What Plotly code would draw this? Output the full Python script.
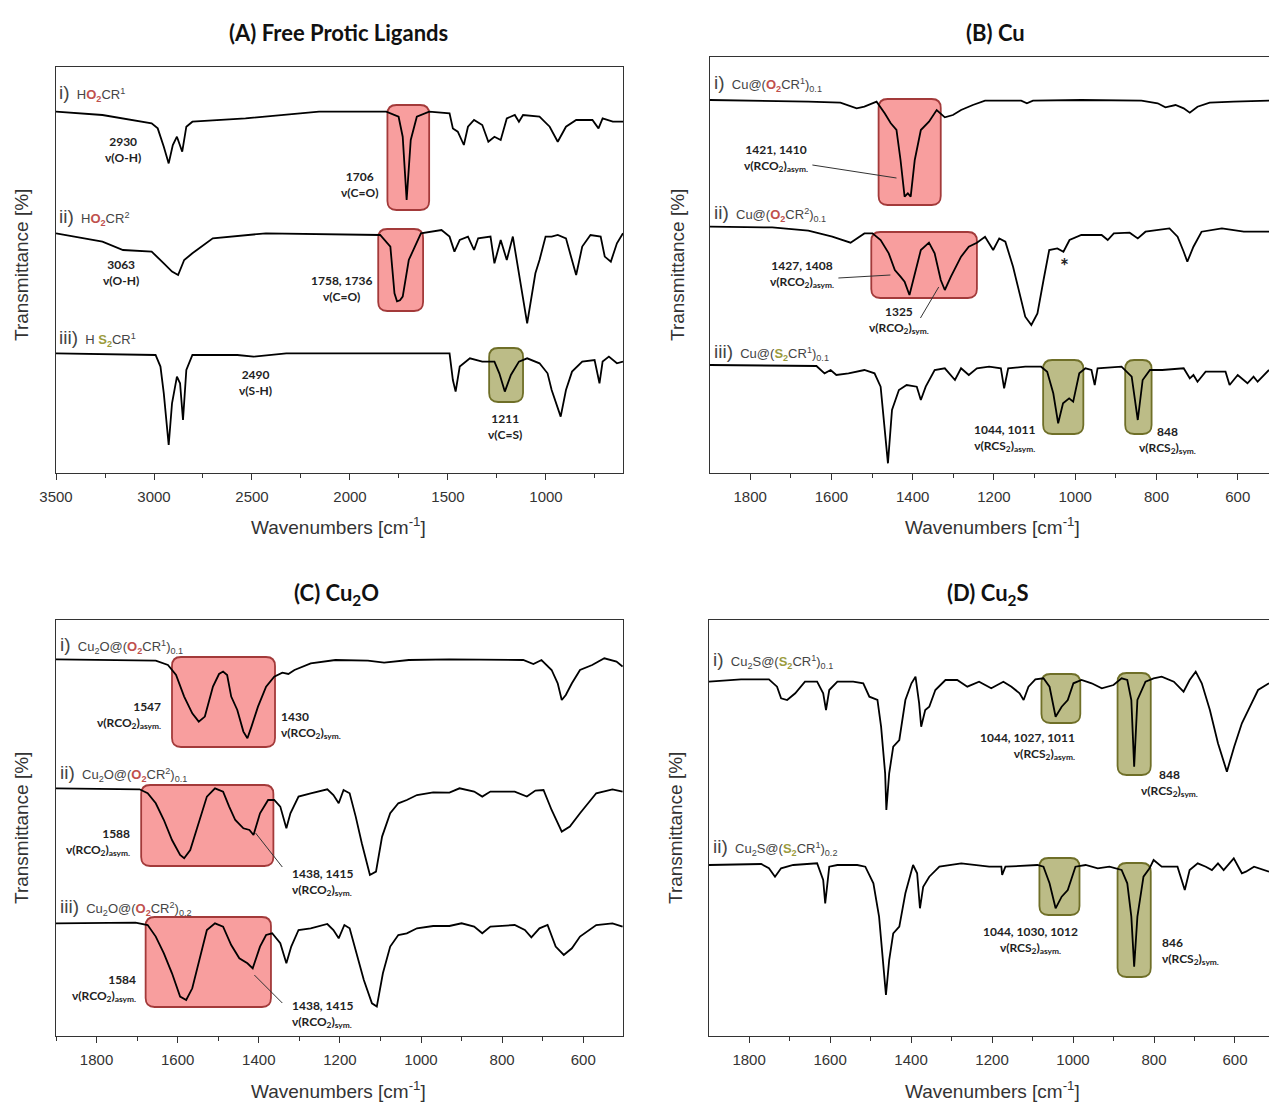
import plotly.graph_objects as go

W, H = 1269, 1103

# ---------------- DATA (wavenumber cm-1, relative transmittance, baseline ~100) ----------------
# (A) free protic ligands
A1_wn = [3500, 3263, 3012, 2981, 2950, 2925, 2904, 2883, 2856, 2835, 2804, 2533, 2158, 1815, 1752, 1731, 1711, 1690, 1659, 1596,
         1492, 1475, 1450, 1419, 1398, 1367, 1325, 1294, 1263, 1231, 1200, 1159, 1138, 1117, 1033, 981, 940, 898, 846, 763, 732, 711, 659, 607]
A1_T = [100, 96.7, 88.3, 83.3, 65, 48.3, 66.7, 75, 60, 85, 90, 93.3, 100, 100, 95, 75, 11.7, 71.7, 95, 100,
        98.3, 83.3, 80, 66.7, 85, 91.7, 86.7, 70, 75, 71.7, 93.3, 96.7, 90, 96.7, 95, 85, 70, 85, 91.7, 91.7, 83.3, 93.3, 90, 90]

A2_wn = [3500, 3263, 3158, 3012, 2950, 2908, 2877, 2846, 2804, 2700, 2429, 1846, 1794, 1773, 1760, 1745, 1731, 1700, 1638, 1533,
         1492, 1467, 1440, 1398, 1367, 1346, 1283, 1263, 1231, 1200, 1169, 1138, 1096, 1054, 1033, 1002, 971, 940, 898, 877, 846,
         815, 773, 721, 700, 669, 638, 607]
A2_T = [100, 91.7, 83.3, 81.7, 70, 61.7, 58.3, 73.3, 80, 95, 100, 98.3, 86.7, 40, 32, 33, 36.7, 73.3, 100, 103.3,
        96.7, 81.7, 93.3, 96.7, 83.3, 95, 96.7, 70, 93.3, 73.3, 96.7, 60, 10, 60, 73.3, 96.7, 96.7, 98.3, 95, 80, 58.3,
        86.7, 98.3, 96.7, 76.7, 71.7, 90, 100]

A3_wn = [3500, 2992, 2967, 2950, 2925, 2908, 2883, 2867, 2852, 2835, 2804, 2575, 2492, 2325, 1492, 1475, 1461, 1440, 1388, 1325,
         1263, 1238, 1210, 1179, 1138, 1096, 1033, 992, 971, 925, 898, 867, 815, 752, 727, 711, 679, 638, 607]
A3_T = [100, 98.3, 86.7, 60, 8.3, 50, 76.7, 70, 33.3, 83.3, 98.3, 98.3, 96.7, 100, 100, 73.3, 61.7, 86.7, 95, 91.7,
        91.7, 80, 61.7, 78.3, 91.7, 95, 90, 80, 63.3, 36.7, 63.3, 81.7, 91.7, 93.3, 70, 91.7, 96.7, 90, 91.7]

# (B) Cu
B1_wn = [1899, 1775, 1657, 1578, 1538, 1519, 1489, 1469, 1454, 1440, 1430, 1420, 1412, 1405, 1395, 1380, 1360, 1341, 1321, 1301,
         1281, 1252, 1222, 1133, 1119, 1104, 985, 837, 797, 778, 753, 733, 718, 699, 669, 610, 523]
B1_T = [100, 99.3, 98.3, 97.3, 91.7, 93.3, 98.3, 86.7, 76.7, 70, 40, 3.3, 6.7, 3.3, 40, 70, 78.3, 90, 82.7, 85,
        90, 95, 99.3, 99.3, 96.7, 99.3, 100, 99.3, 96.7, 92.7, 95, 91.7, 87.3, 93.3, 97.3, 98.3, 99.3]

B2_wn = [1899, 1746, 1657, 1598, 1553, 1519, 1499, 1479, 1459, 1444, 1430, 1420, 1408, 1395, 1380, 1360, 1346, 1331, 1321, 1306,
         1281, 1262, 1242, 1222, 1202, 1187, 1172, 1153, 1138, 1123, 1108, 1093, 1078, 1064, 1044, 1029, 1014, 985, 935, 920,
         905, 866, 846, 827, 768, 748, 733, 724, 709, 689, 639, 585, 523]
B2_T = [100, 99.3, 96, 90, 84, 93.3, 93.3, 86.7, 73.3, 56.7, 50, 45, 31.7, 53.3, 76.7, 84, 73.3, 46.7, 36.7, 50,
        70, 80, 84, 90, 76.7, 88.3, 85, 60, 33.3, 10, 1.7, 13.3, 46.7, 76.7, 78.3, 75, 86.7, 91.7, 91.7, 86.7,
        93.3, 94, 88.3, 95, 98.3, 90, 75, 65, 80, 95, 98.3, 95, 95]

B3_wn = [1899, 1637, 1617, 1602, 1588, 1558, 1519, 1494, 1479, 1469, 1461, 1451, 1434, 1415, 1390, 1380, 1368, 1346, 1321, 1296,
         1281, 1262, 1242, 1212, 1183, 1175, 1165, 1123, 1084, 1069, 1054, 1042, 1030, 1015, 1005, 990, 975, 960, 952, 945,
         886, 861, 846, 834, 816, 786, 733, 718, 709, 699, 679, 630, 620, 600, 576, 561, 551, 523]
B3_T = [100, 99, 91.7, 95, 90, 91.7, 95, 91.7, 78.3, 38.3, 1.7, 55, 75, 80, 78.3, 65, 78.3, 95, 96.7, 85,
        96.7, 90, 96.7, 98.3, 96.7, 76.7, 96.7, 98.3, 98.3, 93.3, 71.7, 41.7, 61.7, 66.7, 63.3, 91.7, 96.7, 95, 80, 96.7,
        98.3, 88.3, 45, 85, 95, 95, 96.7, 86.7, 90, 83.3, 93.3, 93.3, 80, 90, 81.7, 88.3, 83.3, 95]

# (C) Cu2O
C1_wn = [1900, 1735, 1654, 1624, 1604, 1584, 1564, 1548, 1533, 1513, 1498, 1488, 1478, 1468, 1453, 1438, 1428, 1418, 1402, 1382,
         1362, 1342, 1327, 1312, 1272, 1211, 1131, 1091, 1030, 930, 799, 748, 723, 703, 678, 663, 653, 643, 628, 608,
         578, 548, 518, 503]
C1_T = [100, 99.3, 98.7, 94.3, 84.3, 62.7, 46, 37.7, 42.7, 72.7, 85.3, 87.7, 84.3, 62.7, 49.3, 27.7, 21, 32.7, 52.7, 72.7,
        82.7, 86.7, 85.3, 89.3, 96, 99.3, 98.7, 96.7, 99.3, 100, 100, 99.3, 95.3, 99.3, 89.3, 76, 59.3, 64.3, 76, 89.3,
        94.3, 101, 97.7, 92.7]

C2_wn = [1900, 1755, 1694, 1674, 1654, 1634, 1614, 1594, 1584, 1569, 1548, 1528, 1508, 1488, 1473, 1458, 1438, 1423, 1413, 1397,
         1377, 1362, 1347, 1332, 1322, 1302, 1272, 1231, 1216, 1203, 1191, 1176, 1161, 1146, 1126, 1111, 1096, 1076, 1056, 1035,
         1010, 970, 930, 905, 869, 849, 829, 769, 739, 718, 698, 678, 653, 633, 608, 568, 528, 503]
C2_T = [100, 99.3, 99, 95, 85, 68.3, 48.3, 33.3, 30, 38.3, 65, 91.7, 100, 96.7, 81.7, 68.3, 60, 58.3, 53.3, 75,
        88.3, 88.3, 81.7, 60, 75, 91.7, 95, 99, 93.3, 85, 98.3, 95, 71.7, 45, 13.3, 16.7, 51.7, 75, 85, 88.3,
        93.3, 96, 95.7, 100, 96.7, 91.7, 96.7, 96.7, 91.7, 97.7, 98.3, 78.3, 56.7, 61.7, 75, 95, 99, 96.7]

C3_wn = [1900, 1704, 1674, 1654, 1634, 1614, 1594, 1579, 1564, 1543, 1528, 1508, 1488, 1468, 1448, 1428, 1415, 1397, 1382, 1367,
         1347, 1332, 1320, 1302, 1272, 1231, 1216, 1203, 1189, 1176, 1161, 1141, 1121, 1109, 1094, 1076, 1056, 1035, 1010, 970,
         930, 900, 869, 849, 829, 769, 744, 728, 708, 688, 668, 648, 628, 608, 568, 528, 503]
C3_T = [100, 100.7, 98.3, 86.7, 70, 50, 26.7, 23.3, 35, 70, 93.3, 100, 96.7, 78.3, 65, 60, 55, 76.7, 88.3, 90,
        80, 60, 76.7, 93.3, 95, 99.3, 93.3, 85, 98.3, 95, 73.3, 43.3, 20, 16.7, 50, 76.7, 88.3, 90, 95, 97.3,
        97.3, 100, 96.7, 90, 96.7, 98.3, 93.3, 86, 95, 98.3, 76.7, 68.3, 75, 86.7, 98.3, 100, 96.7]

# (D) Cu2S
D1_wn = [1899, 1820, 1751, 1731, 1721, 1706, 1686, 1662, 1632, 1617, 1610, 1602, 1582, 1543, 1518, 1503, 1483, 1474, 1464, 1461,
         1454, 1444, 1429, 1414, 1399, 1389, 1380, 1375, 1365, 1355, 1340, 1315, 1286, 1261, 1232, 1202, 1172, 1152, 1132, 1122,
         1110, 1093, 1073, 1058, 1043, 1028, 1013, 999, 979, 954, 929, 900, 880, 866, 856, 849, 841, 821, 801, 781,
         751, 727, 712, 697, 682, 662, 642, 620, 602, 583, 563, 543, 516]
D1_T = [98.3, 100.7, 100.7, 93.3, 81.7, 80, 86.7, 98.3, 98.3, 86.7, 70, 90, 98.3, 98.3, 96.7, 83.3, 80, 53.3, 6.7, -30,
        6.7, 33.3, 40, 80, 96.7, 103.3, 76.7, 53.3, 70, 73.3, 90, 100, 100, 93.3, 98.3, 91.7, 98.3, 93.3, 86.7, 80,
        93.3, 100.7, 101.7, 93.3, 63.3, 73.3, 80, 96.7, 100, 96.7, 91.7, 95, 101.7, 100, 80, 13.3, 80, 98.3, 101.7, 103.3,
        98.3, 88.3, 100, 108.3, 96.7, 70, 36.7, 8.3, 33.3, 56.7, 73.3, 90, 96.7]

D2_wn = [1899, 1770, 1751, 1736, 1721, 1691, 1632, 1617, 1612, 1602, 1582, 1533, 1513, 1493, 1479, 1469, 1462, 1454, 1444, 1429,
         1414, 1395, 1385, 1378, 1370, 1355, 1330, 1276, 1207, 1177, 1175, 1167, 1088, 1073, 1058, 1043, 1028, 1013, 994, 969,
         939, 910, 880, 866, 856, 849, 841, 826, 811, 801, 781, 742, 724, 712, 692, 672, 657, 642, 628, 603,
         583, 573, 553, 516]
D2_T = [100, 101, 96.7, 88.3, 96.7, 100, 101.7, 85, 61.7, 98.3, 100, 100, 98.3, 81.7, 48.3, -1.7, -30, 5, 31.7, 38.3,
        71.7, 100, 91.7, 56.7, 78.3, 88.3, 98.3, 101.7, 98.3, 98.3, 90, 98.3, 100, 98.3, 81.7, 56.7, 68.3, 75, 98.3, 100,
        96.7, 98.3, 95, 81.7, 48.3, -1.7, 48.3, 88.3, 96.7, 105, 98.3, 98.3, 75, 95, 101.7, 98.3, 95, 101.7, 95, 106.7,
        91.7, 93.3, 98.3, 93.3]

A_ticks = [3500, 3000, 2500, 2000, 1500, 1000]
BCD_ticks = [1800, 1600, 1400, 1200, 1000, 800, 600]

# ---------------- LAYOUT HELPERS ----------------
FONT_AX = "Liberation Sans, Arial, sans-serif"
FONT_CAL = "Lato, Carlito, Calibri, sans-serif"
RED = "#c0504d"
OLIVE = "#9b9b3c"

# panel pixel boxes: (left, right, top, bottom), x range
panels = {
    1: dict(box=(56, 623, 67, 473), xr=[3500, 607], minor=250, ymirror=True),
    2: dict(box=(710, 1269, 57, 473), xr=[1899, 523], minor=100, ymirror=False),
    3: dict(box=(56, 623, 620, 1036), xr=[1900, 502], minor=100, ymirror=True),
    4: dict(box=(709, 1269, 620, 1036), xr=[1899, 516], minor=100, ymirror=False),
}

fig = go.Figure()
layout = dict(width=W, height=H, margin=dict(l=0, r=0, t=0, b=0, pad=0, autoexpand=False),
              paper_bgcolor="white", plot_bgcolor="white", showlegend=False)

for k, p in panels.items():
    l, r, t, b = p["box"]
    sx = "" if k == 1 else str(k)
    layout["xaxis" + sx] = dict(
        domain=[l / W, r / W], range=p["xr"], anchor="y" + sx, automargin=False,
        showline=True, linecolor="#333", linewidth=1.3, mirror=True,
        ticks="outside", ticklen=6, tickwidth=1.2, tickcolor="#333",
        tickvals=A_ticks if k == 1 else BCD_ticks,
        minor=dict(dtick=p["minor"], ticks="outside", ticklen=4, tickcolor="#333", showgrid=False),
        showgrid=False, zeroline=False, ticklabelstandoff=4,
        tickfont=dict(family=FONT_AX, size=15, color="#333"),
    )
    layout["yaxis" + sx] = dict(
        domain=[1 - b / H, 1 - t / H], range=[0, b - t], anchor="x" + sx, automargin=False,
        showline=True, linecolor="#333", linewidth=1.3, mirror=p["ymirror"],
        showticklabels=False, ticks="", showgrid=False, zeroline=False,
    )

traces = [
    (1, A1_wn, A1_T, 261.3), (1, A2_wn, A2_T, 139.7), (1, A3_wn, A3_T, 19.7),
    (2, B1_wn, B1_T, 273.0), (2, B2_wn, B2_T, 146.3), (2, B3_wn, B3_T, 8.0),
    (3, C1_wn, C1_T, 276.7), (3, C2_wn, C2_T, 147.7), (3, C3_wn, C3_T, 12.7),
    (4, D1_wn, D1_T, 256.0), (4, D2_wn, D2_T, 71.0),
]
for k, wn, T, off in traces:
    sx = "" if k == 1 else str(k)
    fig.add_trace(go.Scatter(x=wn, y=[v + off for v in T], mode="lines",
                             line=dict(color="black", width=1.8),
                             xaxis="x" + sx, yaxis="y" + sx, hoverinfo="skip"))

shapes = []
annotations = []


def rrect(k, x_a, x_b, y_a, y_b, kind):
    sx = "" if k == 1 else str(k)
    p = panels[k]
    l, r, t, b = p["box"]
    wn_per_px = abs(p["xr"][0] - p["xr"][1]) / (r - l)
    rx = 9 * wn_per_px
    ry = 9
    xl, xh = min(x_a, x_b), max(x_a, x_b)
    y0, y1 = min(y_a, y_b), max(y_a, y_b)
    path = (f"M {xl+rx},{y0} L {xh-rx},{y0} Q {xh},{y0} {xh},{y0+ry} L {xh},{y1-ry} "
            f"Q {xh},{y1} {xh-rx},{y1} L {xl+rx},{y1} Q {xl},{y1} {xl},{y1-ry} "
            f"L {xl},{y0+ry} Q {xl},{y0} {xl+rx},{y0} Z")
    if kind == "r":
        fill, line = "rgba(245,120,120,0.72)", "#a33a3a"
    else:
        fill, line = "rgba(165,165,95,0.75)", "#6f6f28"
    shapes.append(dict(type="path", path=path, xref="x" + sx, yref="y" + sx,
                       fillcolor=fill, line=dict(color=line, width=1.8), layer="below"))


# highlight boxes (wavenumber span, height span)
rrect(1, 1809, 1596, 263, 368, "r")
rrect(1, 1856, 1627, 162, 244, "r")
rrect(1, 1290, 1117, 71, 125, "o")
rrect(2, 1484, 1331, 268, 374, "r")
rrect(2, 1502, 1242, 175, 241, "r")
rrect(2, 1079, 980, 39, 113, "o")
rrect(2, 877, 812, 39, 113, "o")
rrect(3, 1614, 1360, 289, 379, "r")
rrect(3, 1690, 1364, 170, 251, "r")
rrect(3, 1679, 1370, 29, 119, "r")
rrect(4, 1078, 982, 313, 362, "o")
rrect(4, 890, 808, 261, 363, "o")
rrect(4, 1083, 984, 121, 178, "o")
rrect(4, 890, 808, 59, 173, "o")


def leader(k, xa, ya, xb, yb):
    sx = "" if k == 1 else str(k)
    shapes.append(dict(type="line", x0=xa, y0=ya, x1=xb, y1=yb, xref="x" + sx, yref="y" + sx,
                       line=dict(color="#333", width=1)))


leader(2, 1647, 308, 1440, 295)
leader(2, 1583, 195, 1455, 198)
leader(2, 1381, 155, 1336, 186)
leader(3, 1408, 203, 1342, 169)
leader(3, 1411, 61, 1342, 33)


def note(k, x, y, text, xanchor="center", align="center", size=12):
    sx = "" if k == 1 else str(k)
    annotations.append(dict(x=x, y=y, xref="x" + sx, yref="y" + sx, text=text, showarrow=False,
                            xanchor=xanchor, yanchor="middle", align=align,
                            font=dict(family=FONT_CAL, size=size, color="#222", weight="bold")))


NU = "\u03bd"
asym = "<sub>asym.</sub>"
sym = "<sub>sym.</sub>"
note(1, 3158, 324, f"2930<br>{NU}(O-H)")
note(1, 1950, 289, f"1706<br>{NU}(C=O)")
note(1, 3169, 201, f"3063<br>{NU}(O-H)")
note(1, 2044, 185, f"1758, 1736<br>{NU}(C=O)")
note(1, 2481, 91, f"2490<br>{NU}(S-H)")
note(1, 1207, 47, f"1211<br>{NU}(C=S)")

note(2, 1736, 315, f"1421, 1410<br>{NU}(RCO<sub>2</sub>){asym}")
note(2, 1672, 199, f"1427, 1408<br>{NU}(RCO<sub>2</sub>){asym}")
note(2, 1435, 153, f"1325<br>{NU}(RCO<sub>2</sub>){sym}")
note(2, 1173, 35, f"1044, 1011<br>{NU}(RCS<sub>2</sub>){asym}")
note(2, 773, 33, f"848<br>{NU}(RCS<sub>2</sub>){sym}")
note(2, 1027, 207, "*", size=21)

note(3, 1637, 321, f"1547<br>{NU}(RCO<sub>2</sub>){asym}", xanchor="right", align="right")
note(3, 1349, 311, f"1430<br>{NU}(RCO<sub>2</sub>){sym}", xanchor="left", align="left")
note(3, 1712, 194, f"1588<br>{NU}(RCO<sub>2</sub>){asym}", xanchor="right", align="right")
note(3, 1324, 154, f"1438, 1415<br>{NU}(RCO<sub>2</sub>){sym}", xanchor="left", align="left")
note(3, 1699, 48, f"1584<br>{NU}(RCO<sub>2</sub>){asym}", xanchor="right", align="right")
note(3, 1322, 22, f"1438, 1415<br>{NU}(RCO<sub>2</sub>){sym}", xanchor="left", align="left")

note(4, 991, 290, f"1044, 1027, 1011<br>{NU}(RCS<sub>2</sub>){asym}", xanchor="right", align="right")
note(4, 762, 253, f"848<br>{NU}(RCS<sub>2</sub>){sym}")
note(4, 1105, 96, f"1044, 1030, 1012<br>{NU}(RCS<sub>2</sub>){asym}")
note(4, 786, 85, f"846<br>{NU}(RCS<sub>2</sub>){sym}", xanchor="left", align="left")


def label(k, x, y, roman, body):
    sx = "" if k == 1 else str(k)
    txt = f"<span style='font-size:19px'>{roman}</span>  {body}"
    annotations.append(dict(x=x, y=y, xref="x" + sx, yref="y" + sx, text=txt, showarrow=False,
                            xanchor="left", yanchor="middle",
                            font=dict(family=FONT_AX, size=13, color="#444")))


def acc(t, c):
    return f"<span style='color:{c}'><b>{t}</b></span>"


O2 = acc("O<sub>2</sub>", RED)
S2 = acc("S<sub>2</sub>", OLIVE)
label(1, 3494, 380, "i)", f"H{O2}CR<sup>1</sup>")
label(1, 3494, 256, "ii)", f"H{O2}CR<sup>2</sup>")
label(1, 3494, 135, "iii)", f"H {S2}CR<sup>1</sup>")
label(2, 1893, 390, "i)", f"Cu@({O2}CR<sup>1</sup>)<sub>0.1</sub>")
label(2, 1893, 260, "ii)", f"Cu@({O2}CR<sup>2</sup>)<sub>0.1</sub>")
label(2, 1893, 121, "iii)", f"Cu@({S2}CR<sup>1</sup>)<sub>0.1</sub>")
label(3, 1896, 391, "i)", f"Cu<sub>2</sub>O@({O2}CR<sup>1</sup>)<sub>0.1</sub>")
label(3, 1896, 263, "ii)", f"Cu<sub>2</sub>O@({O2}CR<sup>2</sup>)<sub>0.1</sub>")
label(3, 1896, 129, "iii)", f"Cu<sub>2</sub>O@({O2}CR<sup>2</sup>)<sub>0.2</sub>")
label(4, 1893, 376, "i)", f"Cu<sub>2</sub>S@({S2}CR<sup>1</sup>)<sub>0.1</sub>")
label(4, 1893, 189, "ii)", f"Cu<sub>2</sub>S@({S2}CR<sup>1</sup>)<sub>0.2</sub>")


def paper_text(x, y, text, size, family, weight="normal", angle=0, color="#222"):
    annotations.append(dict(x=x / W, y=1 - y / H, xref="paper", yref="paper", text=text, showarrow=False,
                            xanchor="center", yanchor="middle", textangle=angle,
                            font=dict(family=family, size=size, color=color, weight=weight)))


# panel titles
paper_text(338, 32, "(A) Free Protic Ligands", 22, FONT_CAL, "bold", color="#111")
paper_text(995, 32, "(B) Cu", 22, FONT_CAL, "bold", color="#111")
paper_text(336, 594, "(C) Cu<sub>2</sub>O", 22, FONT_CAL, "bold", color="#111")
paper_text(988, 594, "(D) Cu<sub>2</sub>S", 22, FONT_CAL, "bold", color="#111")

# axis titles
xt = "Wavenumbers [cm<sup>-1</sup>]"
paper_text(338, 526, xt, 19, FONT_AX, color="#333")
paper_text(992, 526, xt, 19, FONT_AX, color="#333")
paper_text(338, 1090, xt, 19, FONT_AX, color="#333")
paper_text(992, 1090, xt, 19, FONT_AX, color="#333")
yt = "Transmittance [%]"
paper_text(21, 265, yt, 19, FONT_AX, angle=-90, color="#333")
paper_text(677, 265, yt, 19, FONT_AX, angle=-90, color="#333")
paper_text(21, 828, yt, 19, FONT_AX, angle=-90, color="#333")
paper_text(675, 828, yt, 19, FONT_AX, angle=-90, color="#333")

layout["shapes"] = shapes
layout["annotations"] = annotations
fig.update_layout(**layout)
fig.write_html("out.html", config={"displayModeBar": False},
               post_script="document.body.style.margin='0px';document.body.style.overflow='hidden';")
